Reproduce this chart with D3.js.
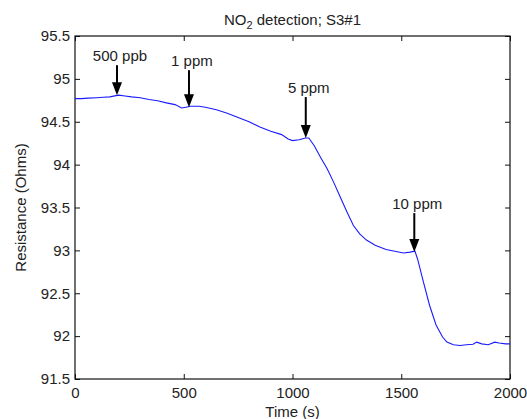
<!DOCTYPE html>
<html lang="en">
<head>
<meta charset="UTF-8">
<title>NO2 detection</title>
<script src="https://d3js.org/d3.v7.min.js"></script>
<style>
  body { margin: 0; background: #fff; }
  text { font-family: "Liberation Sans", Arial, sans-serif; fill: #222; }
</style>
</head>
<body>
<script>
// time (s) and resistance (Ohms)
var times = [0, 30, 60, 100, 130, 160, 200, 230, 260, 300, 340, 380, 420, 460, 490, 510, 530, 570,
  600, 650, 700, 750, 800, 850, 900, 950, 980, 1000, 1030, 1060, 1075, 1100, 1130, 1160, 1190,
  1220, 1250, 1280, 1310, 1340, 1380, 1430, 1470, 1510, 1540, 1563, 1575, 1600, 1630, 1660,
  1690, 1710, 1740, 1770, 1800, 1830, 1847, 1870, 1900, 1930, 1950, 1980, 2000];
var resistance = [94.77, 94.77, 94.775, 94.78, 94.785, 94.79, 94.81, 94.80, 94.79, 94.78, 94.76,
  94.745, 94.72, 94.70, 94.66, 94.67, 94.68, 94.68, 94.67, 94.64, 94.60, 94.55, 94.50, 94.44,
  94.39, 94.35, 94.30, 94.28, 94.29, 94.31, 94.31, 94.22, 94.08, 93.95, 93.79, 93.62, 93.45,
  93.29, 93.19, 93.12, 93.06, 93.01, 92.99, 92.97, 92.98, 92.99, 92.90, 92.65, 92.36, 92.13,
  91.99, 91.93, 91.90, 91.89, 91.90, 91.905, 91.93, 91.91, 91.90, 91.93, 91.92, 91.91, 91.91];

// gas injection marks
var markLabels = ["500 ppb", "1 ppm", "5 ppm", "10 ppm"];
var markTimes = [193, 524, 1061, 1560];
var markValues = [94.81, 94.67, 94.31, 92.98];

var xTicks = [0, 500, 1000, 1500, 2000];
var yTicks = [91.5, 92, 92.5, 93, 93.5, 94, 94.5, 95, 95.5];

var width = 527, height = 419;
var margin = { top: 36, right: 17, bottom: 40, left: 75 };
var w = width - margin.left - margin.right;
var h = height - margin.top - margin.bottom;

var svg = d3.select('body').append('svg').attr('width', width).attr('height', height);
var g = svg.append('g').attr('transform', 'translate(' + margin.left + ',' + margin.top + ')');

var x = d3.scaleLinear().domain([0, 2000]).range([0, w]);
var y = d3.scaleLinear().domain([91.5, 95.5]).range([h, 0]);

var fontSize = 15;

// axes, ticks pointing inward on all four sides
function styleAxis(sel) {
  sel.select('.domain').remove();
  sel.selectAll('line').attr('stroke', '#111');
  sel.selectAll('text').style('font-size', fontSize + 'px').attr('fill', '#222');
}
g.append('g').attr('transform', 'translate(0,' + h + ')')
  .call(d3.axisBottom(x).tickValues(xTicks).tickFormat(d3.format('d')).tickSizeInner(-5).tickSizeOuter(0).tickPadding(8))
  .call(styleAxis);
g.append('g')
  .call(d3.axisLeft(y).tickValues(yTicks).tickFormat(d3.format('')).tickSizeInner(-5).tickSizeOuter(0).tickPadding(5))
  .call(styleAxis);
g.append('g')
  .call(d3.axisTop(x).tickValues(xTicks).tickSizeInner(-5).tickSizeOuter(0).tickFormat(''))
  .call(styleAxis);
g.append('g').attr('transform', 'translate(' + w + ',0)')
  .call(d3.axisRight(y).tickValues(yTicks).tickSizeInner(-5).tickSizeOuter(0).tickFormat(''))
  .call(styleAxis);

g.append('rect').attr('width', w).attr('height', h)
  .attr('fill', 'none').attr('stroke', '#111').attr('stroke-width', 1.2);

// trace
var pts = times.map(function (t, i) { return [t, resistance[i]]; });
g.append('path').datum(pts)
  .attr('fill', 'none').attr('stroke', '#1a1aff').attr('stroke-width', 1.1)
  .attr('d', d3.line().x(function (d) { return x(d[0]); }).y(function (d) { return y(d[1]); }));

// arrows with labels
var arrowLen = [30, 37, 41, 39];
markLabels.forEach(function (lab, i) {
  var tx = x(markTimes[i]), ty = y(markValues[i]);
  var top = ty - arrowLen[i];
  g.append('line').attr('x1', tx).attr('x2', tx).attr('y1', top).attr('y2', ty - 10)
    .attr('stroke', '#000').attr('stroke-width', 2);
  g.append('path')
    .attr('d', 'M' + (tx - 5) + ',' + (ty - 13) + 'L' + (tx + 5) + ',' + (ty - 13) + 'L' + tx + ',' + ty + 'Z')
    .attr('fill', '#000');
  g.append('text').attr('x', tx + 3).attr('y', top - 4)
    .attr('text-anchor', 'middle').style('font-size', fontSize + 'px').text(lab);
});

// title with subscript
var title = svg.append('text').attr('x', margin.left + w / 2).attr('y', 25)
  .attr('text-anchor', 'middle').style('font-size', fontSize + 'px');
title.append('tspan').text('NO');
title.append('tspan').attr('dy', 4).style('font-size', '11px').text('2');
title.append('tspan').attr('dy', -4).text(' detection; S3#1');

svg.append('text').attr('x', margin.left + w / 2).attr('y', height - 2)
  .attr('text-anchor', 'middle').style('font-size', fontSize + 'px').text('Time (s)');

svg.append('text').attr('transform', 'translate(26,' + (margin.top + h / 2) + ') rotate(-90)')
  .attr('text-anchor', 'middle').style('font-size', fontSize + 'px').text('Resistance (Ohms)');
</script>
</body>
</html>
